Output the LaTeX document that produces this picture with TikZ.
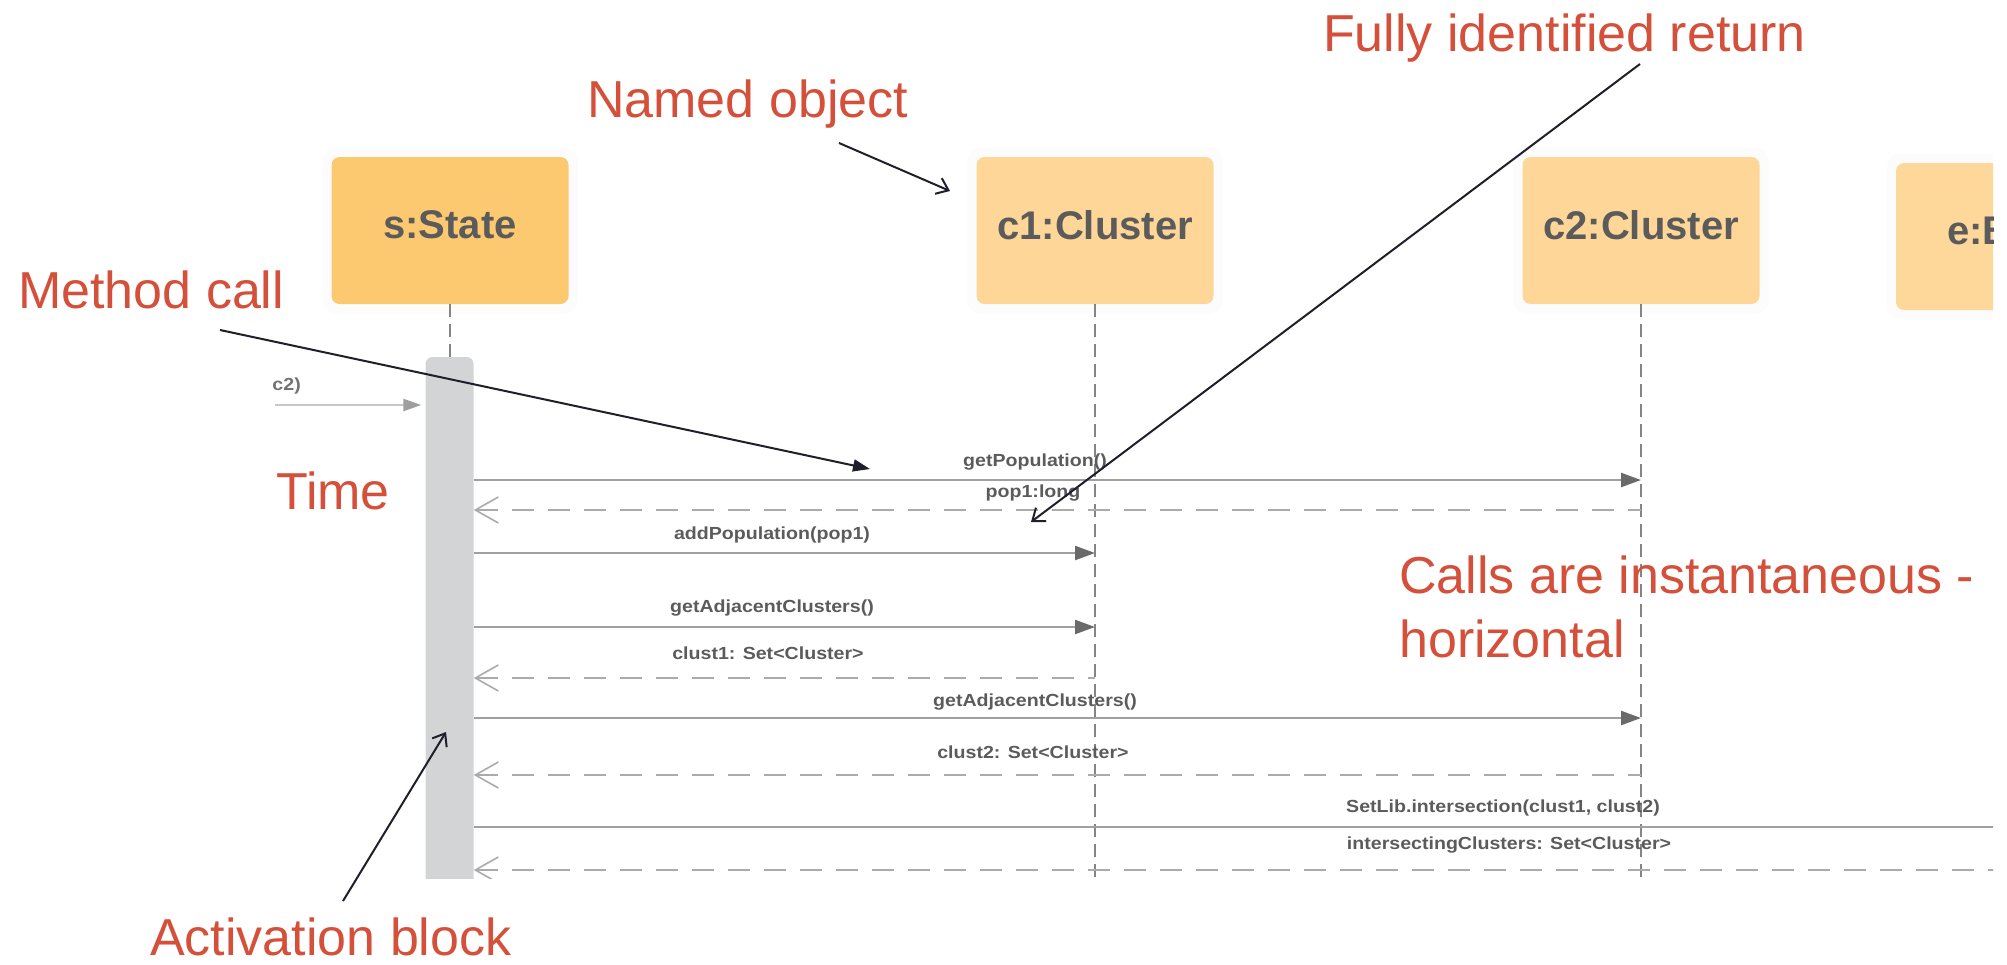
\documentclass[tikz,border=0pt]{standalone}
\usepackage{fontspec}
\setmainfont{Liberation Sans}
\newfontfamily\msgfamily[FakeStretch=1.12]{Liberation Sans}
\usetikzlibrary{arrows.meta}

\definecolor{noteRed}{HTML}{D4503A}
\definecolor{noteInk}{HTML}{1E1F2B}
\definecolor{stateFill}{HTML}{FCC970}
\definecolor{clusterFill}{HTML}{FDD698}
\definecolor{envFill}{HTML}{FED89B}
\definecolor{barFill}{HTML}{D3D4D6}
\definecolor{labelInk}{HTML}{5B5B5B}
\definecolor{msgLine}{HTML}{A0A0A0}
\definecolor{msgHead}{HTML}{6A6A6A}
\definecolor{retLine}{HTML}{ABABAB}
\definecolor{lifeLine}{HTML}{858585}

\newcommand\objfont{\fontsize{40}{48}\selectfont\bfseries}
\newcommand\msgfont{\msgfamily\bfseries\fontsize{17.5}{21}\selectfont}
\newcommand\notefont{\fontsize{52}{62}\selectfont}

\begin{document}
\begin{tikzpicture}[x=1pt, y=-1pt,
  objbox/.style={rounded corners=8pt, minimum width=237pt, minimum height=147pt, inner sep=0pt, draw=none},
  objname/.style={font=\objfont, text=labelInk, inner sep=0pt},
  halo/.style={fill=black, opacity=0.012, rounded corners=14pt},
  life/.style={draw=lifeLine, line width=1.4pt, dash pattern=on 13pt off 7pt},
  callmsg/.style={draw=msgLine, line width=2.4pt, -{Triangle[length=20pt, width=14pt, color=msgHead, fill=msgHead]}},
  retmsg/.style={draw=retLine, line width=2.4pt, dash pattern=on 22pt off 14pt, {Straight Barb[length=23pt, width=26pt, line width=1.6pt]}-},
  msglabel/.style={font=\msgfont, text=labelInk, inner sep=0pt},
  note/.style={font=\notefont, text=noteRed, inner sep=0pt, anchor=base west},
  pointer/.style={draw=noteInk, line width=2pt, -{Straight Barb[length=11pt, width=17pt, line width=2pt]}},
  callpointer/.style={draw=noteInk, line width=2pt, -{Triangle[length=17pt, width=12pt]}},
]
\useasboundingbox (0,0) rectangle (2007,964);

\begin{scope}
  \clip (0,0) rectangle (1993,878);

  % faint halos behind the object boxes
  \foreach \cx/\cy in {450/230.5, 1095/230.5, 1641/230.5, 2014.5/236.5}{
    \fill[halo] (\cx-128,\cy-83) rectangle (\cx+128,\cy+83);
  }

  % object heads
  \node[objbox, fill=stateFill]   (sbox)  at (450,230.5) {};
  \node[objbox, fill=clusterFill] (c1box) at (1095,230.5) {};
  \node[objbox, fill=clusterFill] (c2box) at (1641,230.5) {};
  \node[objbox, fill=envFill]     (ebox)  at (2014.5,236.5) {};
  \node[objname] (sname)  at (450,225)  {s:State};
  \node[objname] (c1name) at (1095,225) {c1:Cluster};
  \node[objname] (c2name) at (1641,225) {c2:Cluster};
  \node[objname, anchor=west] (ename) at (1947,231) {e:B};

  % activation block of s
  \node[fill=barFill, rounded corners=7pt, minimum width=48pt, minimum height=543pt, inner sep=0pt] (bar) at (449.5,628.5) {};

  % lifelines
  \coordinate (bottom) at (0,878);
  \draw[life] (sbox.south) -- (sbox.south |- bar.north);
  \draw[life] (c1box.south) -- (c1box.south |- bottom);
  \draw[life] (c2box.south) -- (c2box.south |- bottom);

  % incoming call
  \coordinate (inStart) at (275,405);
  \draw[draw=black!22, line width=2.4pt, shorten >=4pt,
        -{Triangle[length=18pt, width=12pt, color=black!38, fill=black!38]}]
        (inStart) -- (bar.west |- inStart);
  \node[msglabel, text=black!55, anchor=east] (inlabel) at (301,386) {c2)};

  % message rows
  \coordinate (r1) at (0,480);
  \coordinate (r2) at (0,510);
  \coordinate (r3) at (0,553);
  \coordinate (r4) at (0,627);
  \coordinate (r5) at (0,678);
  \coordinate (r6) at (0,718);
  \coordinate (r7) at (0,775);
  \coordinate (r8) at (0,827);
  \coordinate (r9) at (0,870);
  \coordinate (farRight) at (2030,0);

  \draw[callmsg] (bar.east |- r1) -- (c2box.south |- r1);
  \draw[retmsg]  (bar.east |- r2) -- (c2box.south |- r2);
  \draw[callmsg] (bar.east |- r3) -- (c1box.south |- r3);
  \draw[callmsg] (bar.east |- r4) -- (c1box.south |- r4);
  \draw[retmsg]  (bar.east |- r5) -- (c1box.south |- r5);
  \draw[callmsg] (bar.east |- r6) -- (c2box.south |- r6);
  \draw[retmsg]  (bar.east |- r7) -- (c2box.south |- r7);
  \draw[callmsg] (bar.east |- r8) -- (farRight |- r8);
  \draw[retmsg]  (bar.east |- r9) -- (farRight |- r9);

  \node[msglabel] (l1) at (1035,462) {getPopulation()};
  \node[msglabel] (l2) at (1033,493) {pop1:long};
  \node[msglabel] (l3) at (772,535)  {addPopulation(pop1)};
  \node[msglabel] (l4) at (772,608)  {getAdjacentClusters()};
  \node[msglabel] (l5) at (768,653)  {clust1: Set<Cluster>};
  \node[msglabel] (l6) at (1035,702) {getAdjacentClusters()};
  \node[msglabel] (l7) at (1033,752) {clust2: Set<Cluster>};
  \node[msglabel] (l8) at (1503,808) {SetLib.intersection(clust1, clust2)};
  \node[msglabel] (l9) at (1509,845) {intersectingClusters: Set<Cluster>};
\end{scope}

% annotations
\node[note] (nNamed)  at (587,117)  {Named object};
\node[note] (nFully)  at (1323,51)  {Fully identified return};
\node[note] (nMethod) at (18,308)   {Method call};
\node[note] (nTime)   at (276,509)  {Time};
\node[note] (nCalls1) at (1399,593) {Calls are instantaneous -};
\node[note] (nCalls2) at (1399,657) {horizontal};
\node[note] (nAct)    at (150,955)  {Activation block};

\coordinate (namedFrom)  at (839,143);
\coordinate (namedTo)    at (950,191);
\coordinate (methodFrom) at (220,330);
\coordinate (methodTo)   at (870,469);
\coordinate (fullyFrom)  at (1640,64);
\coordinate (fullyTo)    at (1031,522);
\coordinate (actFrom)    at (343,901);
\coordinate (actTo)      at (446,732);

\draw[pointer]     (namedFrom)  -- (namedTo);
\draw[callpointer] (methodFrom) -- (methodTo);
\draw[pointer]     (fullyFrom)  -- (fullyTo);
\draw[pointer]     (actFrom)    -- (actTo);
\end{tikzpicture}
\end{document}
